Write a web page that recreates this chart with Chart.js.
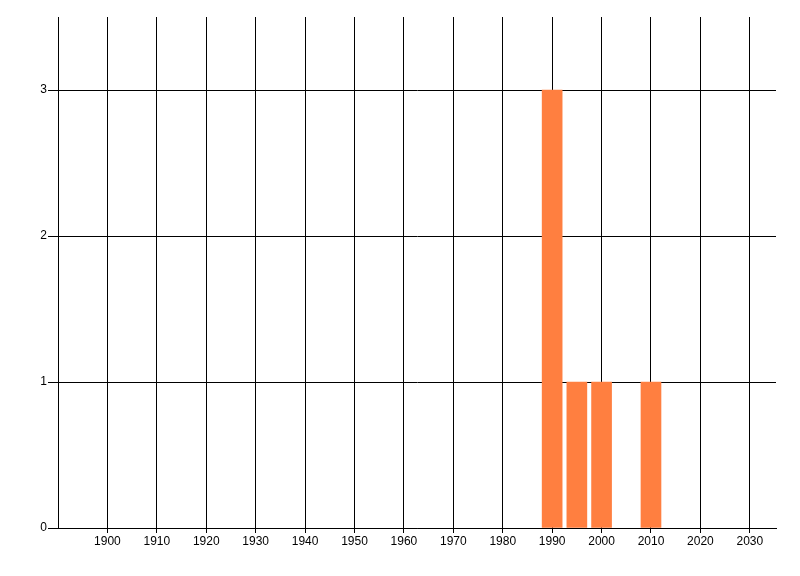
<!DOCTYPE html>
<html>
<head>
<meta charset="utf-8">
<script src="https://cdn.jsdelivr.net/npm/chart.js@4/dist/chart.umd.min.js"></script>
<style>
html,body{margin:0;padding:0;background:#fff;}
canvas{display:block;}
</style>
</head>
<body>
<canvas id="c" width="800" height="576"></canvas>
<script>
const years = [1990, 1995, 2000, 2010];
const counts = [3, 1, 1, 1];
const xMin = 1890, xMax = 2035.3, xStep = 10;
const yMax = 3.5, yStep = 1;

const font = {family: '"Liberation Sans Narrow", "Liberation Sans", Arial, sans-serif', size: 12};

new Chart(document.getElementById('c'), {
  type: 'bar',
  data: {
    datasets: [{
      data: years.map((y, i) => ({x: y, y: counts[i]})),
      backgroundColor: '#FF7F40',
      borderWidth: 0,
      barThickness: 20
    }]
  },
  options: {
    responsive: false,
    animation: false,
    layout: {padding: {top: 17, right: 24, bottom: 0, left: 0}},
    plugins: {legend: {display: false}, tooltip: {enabled: false}},
    scales: {
      x: {
        type: 'linear',
        offset: false,
        min: xMin,
        max: xMax,
        ticks: {stepSize: xStep, includeBounds: false, color: '#000', font: font, padding: 1, maxRotation: 0, autoSkip: false,
                callback: v => String(v)},
        afterBuildTicks: s => { s.ticks = s.ticks.filter(t => t.value !== xMin); },
        afterFit: s => { s.height = 48; },
        grid: {color: '#000', lineWidth: 1, tickLength: 5, offset: false},
        border: {display: true, color: '#000', width: 1}
      },
      y: {
        type: 'linear',
        min: 0,
        max: yMax,
        ticks: {stepSize: yStep, includeBounds: false, color: '#000', font: font, padding: 1},
        afterFit: s => { s.width = 58; },
        grid: {color: '#000', lineWidth: 1, tickLength: 10},
        border: {display: true, color: '#000', width: 1}
      }
    }
  }
});
</script>
</body>
</html>
